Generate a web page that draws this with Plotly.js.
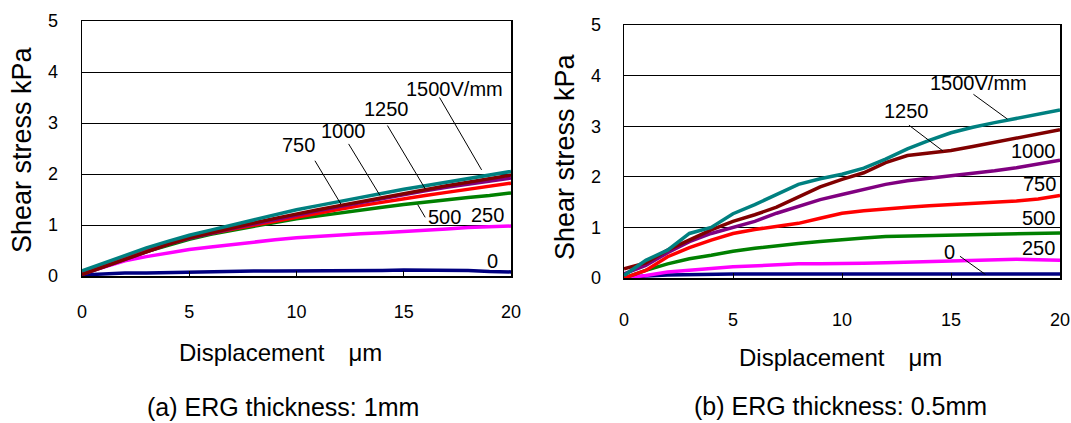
<!DOCTYPE html>
<html>
<head>
<meta charset="utf-8">
<script src="https://cdn.plot.ly/plotly-3.0.1.min.js"></script>
<style>html,body{margin:0;padding:0;background:#fff;}#chart{width:1071px;height:423px;}</style>
</head>
<body>
<div id="chart"></div>
<script>
// Displacement (μm)
const disp = [0,1,2,3,4,5,6,7,8,9,10,11,12,13,14,15,16,17,18,19,20];
const voltages = ['0','250','500','750','1000','1250','1500'];
const colors = ['#000080','#FF00FF','#008000','#FF0000','#800080','#800000','#008080'];

// (a) ERG thickness 1mm — shear stress kPa
const a0    = [0.02,0.04,0.06,0.06,0.07,0.08,0.09,0.09,0.10,0.10,0.10,0.10,0.10,0.10,0.11,0.12,0.12,0.12,0.11,0.09,0.08];
const a250  = [0.05,0.18,0.30,0.38,0.45,0.52,0.57,0.62,0.67,0.71,0.75,0.78,0.80,0.83,0.85,0.87,0.89,0.92,0.95,0.96,0.98];
const a500  = [0.05,0.20,0.34,0.48,0.60,0.72,0.82,0.90,0.98,1.05,1.12,1.18,1.24,1.29,1.35,1.40,1.45,1.50,1.54,1.58,1.63];
const a750  = [0.05,0.22,0.38,0.52,0.64,0.75,0.84,0.92,1.00,1.08,1.16,1.24,1.31,1.38,1.45,1.52,1.58,1.64,1.70,1.76,1.82];
const a1000 = [0.03,0.18,0.33,0.48,0.62,0.74,0.84,0.93,1.02,1.11,1.20,1.28,1.36,1.44,1.52,1.60,1.67,1.74,1.80,1.86,1.92];
const a1250 = [0.03,0.18,0.33,0.48,0.62,0.75,0.85,0.95,1.04,1.13,1.22,1.30,1.38,1.46,1.54,1.62,1.69,1.77,1.84,1.91,1.98];
const a1500 = [0.10,0.25,0.40,0.55,0.68,0.80,0.90,1.00,1.10,1.20,1.30,1.38,1.46,1.55,1.62,1.70,1.77,1.84,1.92,1.98,2.05];

// (b) ERG thickness 0.5mm — shear stress kPa
const b0    = [0.00,0.04,0.06,0.07,0.08,0.08,0.08,0.08,0.08,0.08,0.08,0.08,0.08,0.08,0.08,0.08,0.08,0.08,0.08,0.08,0.08];
const b250  = [0.00,0.05,0.12,0.16,0.19,0.22,0.24,0.26,0.28,0.28,0.28,0.29,0.30,0.31,0.32,0.33,0.34,0.35,0.37,0.36,0.35];
const b500  = [0.00,0.15,0.28,0.38,0.45,0.53,0.59,0.64,0.68,0.72,0.76,0.79,0.82,0.83,0.84,0.84,0.85,0.86,0.87,0.88,0.89];
const b750  = [0.00,0.15,0.42,0.60,0.75,0.88,0.96,1.02,1.08,1.18,1.28,1.33,1.37,1.40,1.43,1.45,1.47,1.49,1.52,1.56,1.63];
const b1000 = [0.08,0.25,0.50,0.72,0.88,1.00,1.12,1.28,1.42,1.55,1.65,1.75,1.85,1.92,1.97,2.01,2.06,2.12,2.18,2.26,2.33];
const b1250 = [0.18,0.30,0.55,0.75,0.95,1.12,1.25,1.40,1.60,1.80,1.95,2.08,2.28,2.42,2.47,2.52,2.60,2.68,2.76,2.85,2.93];
const b1500 = [0.05,0.35,0.55,0.88,1.00,1.27,1.45,1.65,1.85,1.96,2.05,2.17,2.35,2.55,2.72,2.87,2.98,3.07,3.15,3.23,3.32];

const seriesA = [a0,a250,a500,a750,a1000,a1250,a1500];
const seriesB = [b0,b250,b500,b750,b1000,b1250,b1500];

// Curve labels: [text, x, y, leader line x0, y0, x1, y1 (or null)]
const labelsA = [
  ['1500V/mm',17.38,3.67,16.67,3.50,18.63,2.08],
  ['1250',14.21,3.27,14.24,2.95,16.00,1.71],
  ['1000',12.17,2.85,12.43,2.59,13.89,1.58],
  ['750',10.08,2.56,10.86,2.26,12.07,1.41],
  ['500',16.88,1.16,15.65,1.40,16.00,1.15],
  ['250',18.90,1.20,null,null,null,null],
  ['0',19.14,0.29,null,null,null,null]
];
const labelsB = [
  ['1500V/mm',16.26,3.85,16.03,3.63,17.59,3.14],
  ['1250',12.96,3.30,13.07,3.02,14.63,2.51],
  ['1000',18.80,2.51,null,null,null,null],
  ['750',19.07,1.85,null,null,null,null],
  ['500',19.02,1.19,null,null,null,null],
  ['250',19.02,0.59,null,null,null,null],
  ['0',14.94,0.51,15.41,0.43,16.58,0.07]
];

const FONT = '"Liberation Sans", Arial, sans-serif';
const traces = [];
seriesA.forEach((s,i)=>traces.push({x:disp,y:s,xaxis:'x',yaxis:'y',type:'scatter',mode:'lines',
  line:{color:colors[i],width:3.5},name:voltages[i],showlegend:false}));
seriesB.forEach((s,i)=>traces.push({x:disp,y:s,xaxis:'x2',yaxis:'y2',type:'scatter',mode:'lines',
  line:{color:colors[i],width:3.5},name:voltages[i],showlegend:false}));

const annotations = [];
const shapes = [];
function addLabels(list, xr, yr){
  list.forEach(l=>{
    annotations.push({xref:xr,yref:yr,x:l[1],y:l[2],text:l[0],showarrow:false,
      xanchor:'center',yanchor:'middle',font:{family:FONT,size:20,color:'#000'}});
    if(l[3]!==null){
      shapes.push({type:'line',xref:xr,yref:yr,x0:l[3],y0:l[4],x1:l[5],y1:l[6],line:{color:'#000',width:1}});
    }
  });
}
addLabels(labelsA,'x','y');
addLabels(labelsB,'x2','y2');

function txt(t,x,y,size,angle){
  annotations.push({xref:'paper',yref:'paper',x:x/1071,y:1-y/423,text:t,showarrow:false,
    xanchor:'center',yanchor:'middle',textangle:angle||0,font:{family:FONT,size:size,color:'#000'}});
}
txt('Shear stress kPa',22,150,27,-90);
txt('Shear stress kPa',565,157,27,-90);
txt('Displacement\u3000\u03bcm',280,352,24);
txt('Displacement\u3000\u03bcm',840,357,24);
txt('(a) ERG thickness: 1mm',283,407,25);
txt('(b) ERG thickness: 0.5mm',840,406,25);

const xcommon = {range:[0,20],dtick:5,tick0:0,showgrid:false,zeroline:false,showline:true,mirror:true,
  linecolor:'#000',linewidth:1.5,ticks:'inside',ticklen:5,tickcolor:'#000',tickwidth:1,
  tickfont:{family:FONT,size:18,color:'#000'},fixedrange:true};
const ycommon = {range:[0,5],dtick:1,tick0:0,showgrid:true,gridcolor:'#000',gridwidth:1,zeroline:false,
  showline:true,mirror:true,linecolor:'#000',linewidth:1.5,ticks:'',
  tickfont:{family:FONT,size:18,color:'#000'},fixedrange:true};

const layout = {
  width:1071,height:423,margin:{l:0,r:0,t:0,b:0},paper_bgcolor:'#fff',plot_bgcolor:'#fff',
  showlegend:false,
  xaxis:Object.assign({},xcommon,{domain:[82/1071,511/1071],anchor:'y',ticklabelstandoff:19}),
  yaxis:Object.assign({},ycommon,{domain:[(423-276)/423,(423-21)/423],anchor:'x',ticklabelstandoff:19}),
  xaxis2:Object.assign({},xcommon,{domain:[624/1071,1060/1071],anchor:'y2',ticklabelstandoff:25}),
  yaxis2:Object.assign({},ycommon,{domain:[(423-278)/423,(423-25)/423],anchor:'x2',ticklabelstandoff:18}),
  annotations:annotations,shapes:shapes
};
Plotly.newPlot('chart',traces,layout,{staticPlot:true,displayModeBar:false});
</script>
</body>
</html>
